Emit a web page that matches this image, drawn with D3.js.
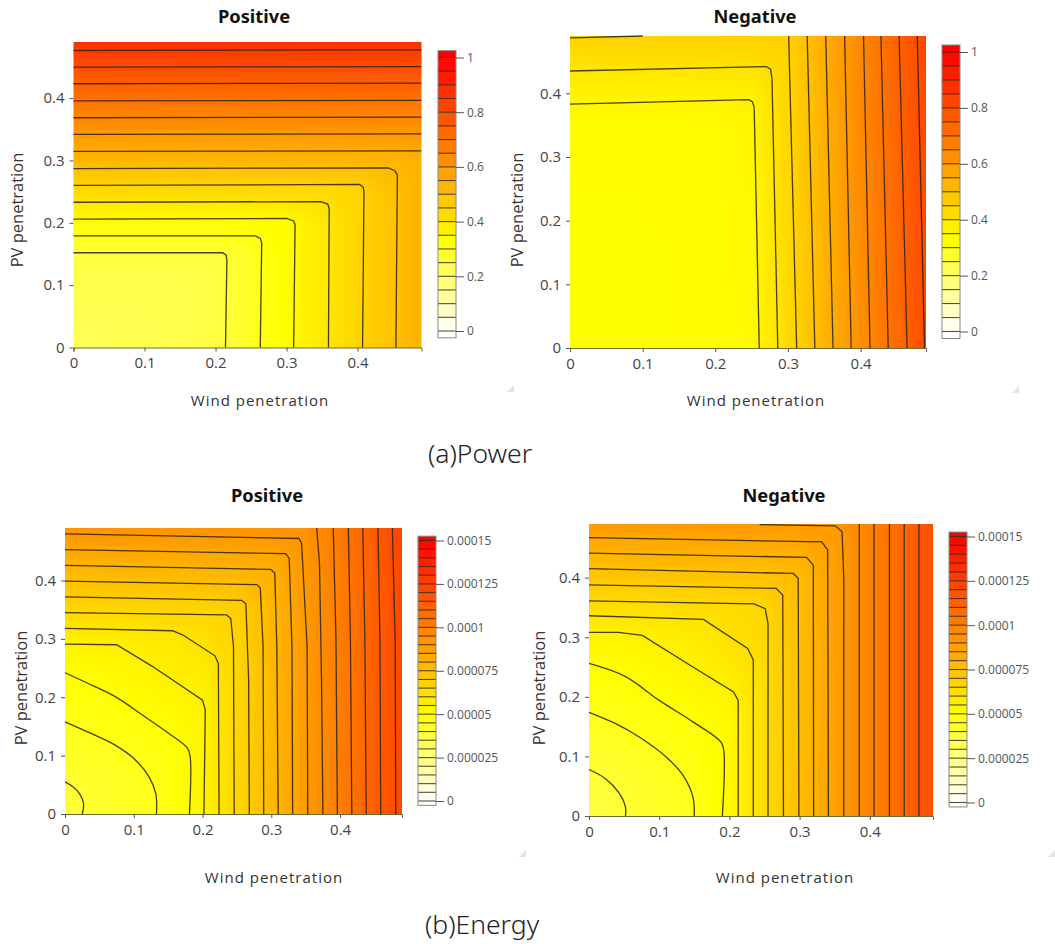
<!DOCTYPE html>
<html>
<head>
<meta charset="utf-8">
<style>
  html, body { margin: 0; padding: 0; background: #fff; }
  text { font-family: "Open Sans", sans-serif; }
</style>
<script src="https://cdn.jsdelivr.net/npm/d3@7"></script>
</head>
<body>
<div id="chart"></div>
<script>
const windGrid = [0, 0.05, 0.1, 0.15, 0.2, 0.25, 0.3, 0.35, 0.4, 0.45, 0.49];
const pvGrid = [0, 0.05, 0.1, 0.15, 0.2, 0.25, 0.3, 0.35, 0.4, 0.45, 0.49];
const axisTicks = [0, 0.1, 0.2, 0.3, 0.4];

const powerTicks = [0, 0.2, 0.4, 0.6, 0.8, 1];
const powerTickLabels = ["0", "0.2", "0.4", "0.6", "0.8", "1"];
const energyTicks = [0, 25, 50, 75, 100, 125, 150]; // millionths
const energyTickLabels = ["0", "0.000025", "0.00005", "0.000075", "0.0001", "0.000125", "0.00015"];

// one row per pvGrid value, one column per windGrid value
const powerPositive = [
  [.22, .225, .23, .235, .245, .285, .34, .39, .44, .495, .535],
  [.225, .225, .23, .235, .245, .285, .34, .39, .44, .495, .535],
  [.235, .235, .235, .235, .245, .285, .34, .39, .44, .495, .535],
  [.25, .25, .25, .25, .25, .285, .34, .39, .44, .495, .535],
  [.338, .338, .338, .338, .338, .338, .34, .39, .44, .495, .535],
  [.43, .43, .43, .43, .43, .43, .43, .43, .44, .495, .535],
  [.523, .523, .523, .523, .523, .523, .523, .523, .523, .523, .535],
  [.615, .615, .615, .615, .615, .615, .615, .615, .615, .615, .615],
  [.707, .707, .707, .707, .707, .707, .707, .707, .707, .707, .707],
  [.8, .8, .8, .8, .8, .8, .8, .8, .8, .8, .8],
  [.873, .873, .873, .873, .873, .873, .873, .873, .873, .873, .873]
];
const powerNegative = [
  [.335, .335, .336, .337, .34, .345, .427, .526, .625, .723, .8],
  [.335, .335, .336, .337, .34, .347, .429, .528, .627, .725, .802],
  [.335, .335, .336, .337, .34, .349, .431, .53, .629, .727, .804],
  [.335, .335, .336, .337, .34, .35, .433, .532, .631, .729, .806],
  [.336, .336, .337, .338, .34, .352, .435, .534, .633, .731, .808],
  [.337, .337, .337, .338, .341, .354, .437, .536, .635, .733, .81],
  [.338, .338, .338, .339, .342, .356, .439, .538, .637, .735, .812],
  [.34, .34, .34, .34, .343, .358, .441, .54, .639, .737, .814],
  [.365, .366, .367, .368, .369, .372, .443, .542, .641, .739, .816],
  [.413, .414, .415, .416, .417, .418, .445, .544, .643, .741, .818],
  [.452, .453, .454, .455, .456, .457, .457, .546, .645, .743, .82]
];
const energyPositive = [
  [38.5, 41.2, 43.5, 46.8, 54.5, 66, 77.6, 89.3, 101, 112.9, 122],
  [39.8, 41.5, 43.8, 47, 54.5, 66, 77.6, 89.3, 101, 112.9, 122],
  [42.2, 43.5, 45, 47.5, 54.5, 66, 77.6, 89.3, 101, 112.9, 122],
  [44.7, 46.5, 48, 50.3, 54.5, 66, 77.6, 89.3, 101, 112.9, 122],
  [47.5, 49.3, 51.5, 53.5, 55.3, 66, 77.6, 89.3, 101, 112.9, 122],
  [50.8, 52, 53.5, 56.5, 58.5, 66.5, 77.6, 89.3, 101, 112.9, 122],
  [56.5, 57, 57.8, 59.3, 61.5, 67, 78, 89.5, 101, 112.9, 122],
  [66, 66.2, 66.5, 66.8, 67, 69, 78.5, 90, 101.2, 113, 122.1],
  [75.2, 75.4, 75.5, 75.6, 75.8, 76.5, 80, 90.3, 101.5, 113.3, 122.3],
  [84.5, 84.7, 84.8, 84.9, 85, 85.2, 85.5, 91, 102, 113.8, 122.8],
  [92, 92.1, 92.2, 92.3, 92.4, 92.5, 92.7, 93, 103, 114, 123]
];
const energyNegative = [
  [36.5, 39.9, 42.5, 45, 52.2, 63.8, 75.2, 87, 98.6, 110.3, 119.6],
  [38.2, 40.3, 42.8, 45.5, 52.2, 63.8, 75.2, 87, 98.6, 110.3, 119.6],
  [41.2, 42.5, 44.5, 47.2, 52.2, 63.8, 75.2, 87, 98.6, 110.3, 119.6],
  [43.7, 45.5, 47, 49.5, 52.5, 63.8, 75.2, 87, 98.6, 110.3, 119.6],
  [46.7, 48, 50.3, 52, 54.5, 63.8, 75.2, 87, 98.6, 110.3, 119.6],
  [50, 51, 53, 55.2, 58.2, 64, 75.2, 87, 98.6, 110.3, 119.6],
  [54.2, 54.6, 55.8, 57.8, 61.5, 65, 75.5, 87.1, 98.6, 110.3, 119.6],
  [63, 63.2, 63.4, 63.6, 64, 66, 75.7, 87.2, 98.6, 110.3, 119.6],
  [72, 72.2, 72.4, 72.6, 72.8, 73.3, 76.5, 87.3, 98.7, 110.3, 119.6],
  [81.7, 81.9, 82, 82.2, 82.4, 82.6, 83, 87.8, 98.8, 110.4, 119.7],
  [89.5, 89.6, 89.7, 89.8, 89.9, 90, 90.2, 90.3, 99, 110.4, 119.7]
];

// contour lines, [wind, pv] pairs
const powerPositiveLines = [
  [[0, .152], [.21, .152], [.215, .148], [.216, .14], [.214, 0]],
  [[0, .179], [.256, .179], [.263, .175], [.265, .168], [.263, 0]],
  [[0, .206], [.3, .207], [.31, .203], [.312, .197], [.31, 0]],
  [[0, .233], [.348, .234], [.358, .23], [.36, .223], [.359, 0]],
  [[0, .26], [.403, .2615], [.408, .257], [.409, .25], [.407, 0]],
  [[0, .287], [.443, .288], [.452, .284], [.456, .277], [.454, 0]],
  [[0, .3146], [.49, .3155]],
  [[0, .3418], [.49, .3425]],
  [[0, .3685], [.49, .3695]],
  [[0, .3957], [.49, .3965]],
  [[0, .423], [.49, .424]],
  [[0, .4497], [.49, .4505]],
  [[0, .4764], [.49, .4775]]
];
const powerNegativeLines = [
  [[0, .383], [.246, .39], [.251, .387], [.2535, .378], [.2605, 0]],
  [[0, .435], [.27, .442], [.276, .438], [.278, .4235], [.286, 0]],
  [[0, .487], [.1, .49]],
  [[.301, .49], [.312, 0]],
  [[.3265, .49], [.337, 0]],
  [[.352, .49], [.362, 0]],
  [[.378, .49], [.387, 0]],
  [[.404, .49], [.413, 0]],
  [[.428, .49], [.438, 0]],
  [[.453, .49], [.464, 0]],
  [[.478, .49], [.488, 0]]
];
const energyPositiveLines = [
  [[0, .055], [.011, .047], [.021, .035], [.027, .018], [.025, 0]],
  [[0, .158], [.038, .138], [.073, .118], [.102, .093], [.122, .064], [.132, .035], [.133, 0]],
  [[0, .242], [.033, .224], [.073, .201], [.112, .17], [.151, .138], [.178, .113], [.182, .098], [.181, 0]],
  [[0, .291], [.075, .29], [.127, .253], [.2, .195], [.204, .178], [.202, 0]],
  [[0, .318], [.156, .314], [.171, .307], [.218, .271], [.223, .258], [.224, 0]],
  [[0, .345], [.235, .341], [.241, .335], [.245, .287], [.246, 0]],
  [[0, .372], [.257, .366], [.263, .36], [.267, .23], [.268, 0]],
  [[0, .399], [.279, .393], [.284, .387], [.288, .287], [.289, 0]],
  [[0, .426], [.299, .419], [.305, .413], [.308, .287], [.31, 0]],
  [[0, .453], [.321, .446], [.326, .438], [.33, .287], [.331, 0]],
  [[0, .48], [.34, .472], [.344, .464], [.352, .287], [.353, 0]],
  [[.366, .49], [.37, .43], [.373, .23], [.375, 0]],
  [[.39, .49], [.394, .3], [.396, 0]],
  [[.412, .49], [.415, .3], [.417, 0]],
  [[.433, .49], [.436, .3], [.438, 0]],
  [[.455, .49], [.458, .3], [.459, 0]],
  [[.476, .49], [.48, .3], [.481, 0]]
];
const energyNegativeLines = [
  [[0, .078], [.023, .063], [.042, .04], [.052, .015], [.052, 0]],
  [[0, .174], [.038, .155], [.071, .133], [.11, .099], [.134, .068], [.148, .032], [.15, 0]],
  [[0, .256], [.052, .234], [.1, .194], [.148, .158], [.188, .124], [.192, .11], [.19, 0]],
  [[0, .308], [.042, .308], [.076, .303], [.148, .25], [.206, .208], [.2125, .194], [.2125, 0]],
  [[0, .336], [.163, .33], [.226, .281], [.234, .262], [.234, 0]],
  [[0, .361], [.235, .356], [.251, .348], [.255, .323], [.255, 0]],
  [[0, .388], [.2665, .382], [.276, .371], [.277, 0]],
  [[0, .415], [.291, .407], [.298, .399], [.299, 0]],
  [[0, .441], [.31, .434], [.3195, .421], [.32, 0]],
  [[0, .467], [.3315, .46], [.34, .4465], [.341, 0]],
  [[.243, .489], [.351, .487], [.3605, .477], [.363, .396], [.363, 0]],
  [[.385, .49], [.385, 0]],
  [[.406, .49], [.406, 0]],
  [[.428, .49], [.428, 0]],
  [[.449, .49], [.449, 0]],
  [[.47, .49], [.47, 0]]
];

const svg = d3.select("#chart")
  .append("svg")
  .attr("width", 1055)
  .attr("height", 944)
  .style("display", "block");

// surface value at a point, bilinear between the read values
function surfaceAt(values, wind, pv) {
  const i = Math.min(Math.max(d3.bisectRight(windGrid, wind) - 1, 0), windGrid.length - 2);
  const j = Math.min(Math.max(d3.bisectRight(pvGrid, pv) - 1, 0), pvGrid.length - 2);
  const tx = (wind - windGrid[i]) / (windGrid[i + 1] - windGrid[i]);
  const ty = (pv - pvGrid[j]) / (pvGrid[j + 1] - pvGrid[j]);
  const low = values[j][i] * (1 - tx) + values[j][i + 1] * tx;
  const high = values[j + 1][i] * (1 - tx) + values[j + 1][i + 1] * tx;
  return low * (1 - ty) + high * ty;
}

function drawPanel(p) {
  const g = svg.append("g");
  const x = d3.scaleLinear().domain([0, 0.49]).range([p.left, p.right]);
  const y = d3.scaleLinear().domain([0, 0.49]).range([p.bottom, p.top]);
  const color = d3.scaleLinear()
    .domain([0, p.zMax / 3, p.zMax])
    .range(["#ffffff", "#ffff00", "#ff0000"]);

  // heatmap goes through a canvas, then into the svg as an image
  const w = Math.round(p.right - p.left);
  const h = Math.round(p.bottom - p.top);
  const canvas = document.createElement("canvas");
  canvas.width = w;
  canvas.height = h;
  const ctx = canvas.getContext("2d");
  const img = ctx.createImageData(w, h);
  for (let row = 0; row < h; row++) {
    for (let col = 0; col < w; col++) {
      const z = surfaceAt(p.values, x.invert(p.left + col + 0.5), y.invert(p.top + row + 0.5));
      const c = d3.rgb(color(z));
      const k = (row * w + col) * 4;
      img.data[k] = c.r;
      img.data[k + 1] = c.g;
      img.data[k + 2] = c.b;
      img.data[k + 3] = 255;
    }
  }
  ctx.putImageData(img, 0, 0);
  g.append("image")
    .attr("x", p.left)
    .attr("y", p.top)
    .attr("width", w)
    .attr("height", h)
    .attr("href", canvas.toDataURL());

  // contour lines, only the round arcs near the origin get a curve
  const linea = d3.line().x(d => x(d[0])).y(d => y(d[1]));
  const arco = d3.line().x(d => x(d[0])).y(d => y(d[1])).curve(d3.curveCatmullRom.alpha(0.5));
  g.selectAll("path.contour")
    .data(p.lines)
    .enter()
    .append("path")
    .attr("class", "contour")
    .attr("fill", "none")
    .attr("stroke", "#2a2208")
    .attr("stroke-opacity", 0.85)
    .attr("stroke-width", 1.3)
    .attr("d", (d, i) => i < p.curved ? arco(d) : linea(d));

  // axes
  const xAxis = g.append("g")
    .attr("transform", `translate(0,${p.bottom})`)
    .call(d3.axisBottom(x).tickValues(axisTicks).tickSize(4).tickPadding(6).tickFormat(d3.format("~g")));
  const yAxis = g.append("g")
    .attr("transform", `translate(${p.left},0)`)
    .call(d3.axisLeft(y).tickValues(axisTicks).tickSize(4).tickPadding(5).tickFormat(d3.format("~g")));
  xAxis.select(".domain").attr("stroke", "#6b6a3a");
  yAxis.select(".domain").remove();
  g.selectAll(".tick line").attr("stroke", "#555");
  g.selectAll(".tick text")
    .style("font-size", "15px")
    .style("font-family", "'Open Sans', sans-serif")
    .attr("fill", "#444");

  // titles
  g.append("text")
    .attr("x", p.titleX)
    .attr("y", p.titleY)
    .attr("text-anchor", "middle")
    .style("font-family", "'Noto Sans', sans-serif")
    .style("font-size", "18.3px")
    .style("font-weight", "700")
    .attr("fill", "#111")
    .text(p.title);
  g.append("text")
    .attr("x", p.xLabelX)
    .attr("y", p.xLabelY)
    .attr("text-anchor", "middle")
    .style("font-size", "15px")
    .style("letter-spacing", "1px")
    .attr("fill", "#333")
    .text("Wind penetration");
  g.append("text")
    .attr("transform", `translate(${p.yLabelX},${p.yLabelY}) rotate(-90)`)
    .attr("text-anchor", "middle")
    .style("font-size", "16.5px")
    .attr("fill", "#333")
    .text("PV penetration");

  // colour bar, one band per contour step, half a step past each end
  const bar = d3.scaleLinear().domain([0, p.zMax]).range([p.barZero, p.barTop]);
  const levels = d3.range(0, p.zMax + p.zStep / 2, p.zStep);
  const barEnd = p.zMax + p.zStep / 2;
  g.selectAll("rect.band")
    .data(levels)
    .enter()
    .append("rect")
    .attr("class", "band")
    .attr("x", p.barLeft)
    .attr("width", p.barRight - p.barLeft)
    .attr("y", d => bar(Math.min(d + p.zStep, barEnd)))
    .attr("height", d => bar(d) - bar(Math.min(d + p.zStep, barEnd)))
    .attr("fill", d => color(d + p.zStep / 2));
  g.append("rect")
    .attr("x", p.barLeft)
    .attr("width", p.barRight - p.barLeft)
    .attr("y", bar(0))
    .attr("height", bar(-p.zStep / 2) - bar(0))
    .attr("fill", "#ffffff");
  g.selectAll("line.level")
    .data(levels)
    .enter()
    .append("line")
    .attr("class", "level")
    .attr("x1", p.barLeft)
    .attr("x2", p.barRight)
    .attr("y1", d => bar(d))
    .attr("y2", d => bar(d))
    .attr("stroke", "#2a2208")
    .attr("stroke-opacity", 0.8)
    .attr("stroke-width", 1.1);
  g.append("rect")
    .attr("x", p.barLeft)
    .attr("y", bar(barEnd))
    .attr("width", p.barRight - p.barLeft)
    .attr("height", bar(-p.zStep / 2) - bar(barEnd))
    .attr("fill", "none")
    .attr("stroke", "#888");
  const barAxis = g.append("g")
    .attr("transform", `translate(${p.barRight},0)`)
    .call(d3.axisRight(bar)
      .tickValues(p.barTicks)
      .tickSize(8)
      .tickPadding(3)
      .tickFormat((d, i) => p.barLabels[i]));
  barAxis.select(".domain").remove();
  barAxis.selectAll(".tick line").attr("stroke", "#555");
  barAxis.selectAll(".tick text")
    .style("font-size", "12px")
    .style("font-family", "'Open Sans', sans-serif")
    .attr("fill", "#555");

  // little resize grip in the corner
  g.append("path")
    .attr("d", `M${p.gripX},${p.gripY}l7,0l0,-7z`)
    .attr("fill", "#e4e4e4");
}

const powerBar = { zMax: 1, zStep: 0.05, barTicks: powerTicks, barLabels: powerTickLabels };
const energyBar = { zMax: 150, zStep: 5, barTicks: energyTicks, barLabels: energyTickLabels };

drawPanel({
  ...powerBar, title: "Positive", values: powerPositive, lines: powerPositiveLines, curved: 0,
  left: 73.5, right: 421.5, top: 42, bottom: 347.5,
  titleX: 254, titleY: 23, xLabelX: 260, xLabelY: 406, yLabelX: 23, yLabelY: 210,
  barLeft: 438, barRight: 456, barTop: 57.5, barZero: 331, gripX: 507, gripY: 392
});
drawPanel({
  ...powerBar, title: "Negative", values: powerNegative, lines: powerNegativeLines, curved: 0,
  left: 570, right: 926, top: 36, bottom: 348,
  titleX: 755, titleY: 23, xLabelX: 756, xLabelY: 406, yLabelX: 523, yLabelY: 210,
  barLeft: 942, barRight: 960, barTop: 52, barZero: 331.5, gripX: 1012, gripY: 393
});
drawPanel({
  ...energyBar, title: "Positive", values: energyPositive, lines: energyPositiveLines, curved: 3,
  left: 65, right: 402, top: 528, bottom: 814,
  titleX: 267, titleY: 502, xLabelX: 274, xLabelY: 883, yLabelX: 27, yLabelY: 688,
  barLeft: 418, barRight: 436, barTop: 540.5, barZero: 801, gripX: 519, gripY: 857
});
drawPanel({
  ...energyBar, title: "Negative", values: energyNegative, lines: energyNegativeLines, curved: 3,
  left: 589, right: 933, top: 524, bottom: 816,
  titleX: 784, titleY: 502, xLabelX: 785, xLabelY: 883, yLabelX: 545, yLabelY: 688,
  barLeft: 949, barRight: 967, barTop: 536.5, barZero: 802.5, gripX: 1048, gripY: 857
});

// captions under each row
svg.append("text")
  .attr("x", 480).attr("y", 463)
  .attr("text-anchor", "middle")
  .style("font-family", "'Noto Sans', sans-serif")
  .style("font-size", "26.5px")
  .style("font-weight", "300")
  .attr("fill", "#222")
  .text("(a)Power");
svg.append("text")
  .attr("x", 482).attr("y", 934)
  .attr("text-anchor", "middle")
  .style("font-family", "'Noto Sans', sans-serif")
  .style("font-size", "26.5px")
  .style("font-weight", "300")
  .attr("fill", "#222")
  .text("(b)Energy");
</script>
</body>
</html>
